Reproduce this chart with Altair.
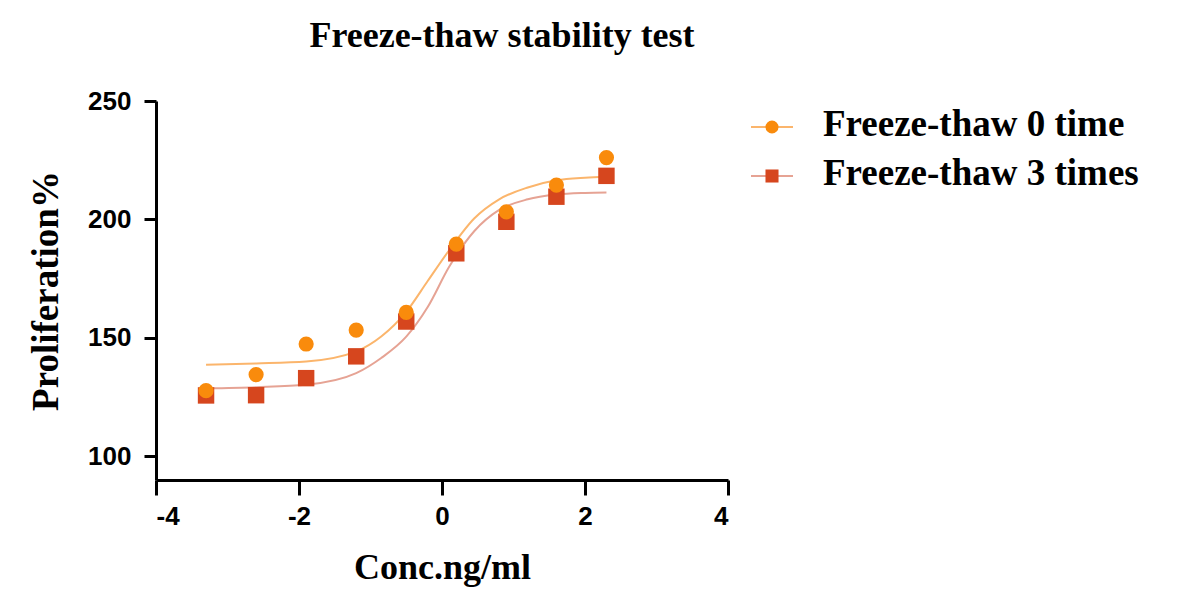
import altair as alt
import pandas as pd

# ---- data ----
x_conc = [-3.3, -2.6, -1.9, -1.2, -0.5, 0.2, 0.9, 1.6, 2.3]
y_ft0 = [127.7, 134.5, 147.4, 153.3, 160.8, 189.6, 203.2, 214.5, 226.1]
y_ft3 = [125.7, 125.8, 133.0, 142.2, 156.9, 185.7, 199.0, 209.6, 218.4]

# fitted curves, points
curve_x = [-3.3, -2.6, -1.9, -1.2, -0.85, -0.5, -0.2, 0.1, 0.45, 0.8, 1.2, 1.6, 2.0, 2.3]
curve_ft0 = [138.7, 139.2, 140.0, 144.3, 150.6, 161.0, 174.0, 187.0, 200.4, 208.5, 213.5, 216.5, 217.6, 218.0]
curve_ft3 = [128.7, 129.2, 130.2, 135.1, 141.5, 150.5, 163.0, 180.0, 195.0, 204.0, 208.5, 210.5, 211.2, 211.4]

series = ["Freeze-thaw 0 time", "Freeze-thaw 3 times"]
marker_colors = ["#F98B0C", "#D6461E"]
line_colors = ["#FBB56C", "#E6A394"]
shapes = ["circle", "square"]

x_ticks = [-4, -2, 0, 2, 4]
y_ticks = [100, 150, 200, 250]

SERIF = "Liberation Serif"
SANS = "Liberation Sans"

pts = pd.DataFrame({
    "x": x_conc + x_conc,
    "y": y_ft0 + y_ft3,
    "series": [series[0]] * len(x_conc) + [series[1]] * len(x_conc),
})
crv = pd.DataFrame({
    "x": curve_x + curve_x,
    "y": curve_ft0 + curve_ft3,
    "series": [series[0]] * len(curve_x) + [series[1]] * len(curve_x),
})

X = alt.X("x:Q", scale=alt.Scale(domain=[-4, 4], nice=False),
          axis=alt.Axis(values=x_ticks, title="Conc.ng/ml", grid=False,
                        labelExpr="datum.value + ''",
                        domainColor="black", domainWidth=3, tickColor="black",
                        tickWidth=3, tickSize=15, labelPadding=8,
                        labelFont=SANS, labelFontWeight="bold", labelFontSize=26,
                        labelColor="black", titleFont=SERIF, titleFontSize=36,
                        titleFontWeight="bold", titleColor="black", titlePadding=21))
Y = alt.Y("y:Q", scale=alt.Scale(domain=[90, 250], nice=False, zero=False),
          axis=alt.Axis(values=y_ticks, title="Proliferation%", grid=False,
                        domainColor="black", domainWidth=3, tickColor="black",
                        tickWidth=3, tickSize=12, labelPadding=13,
                        labelFont=SANS, labelFontWeight="bold", labelFontSize=26,
                        labelColor="black", titleFont=SERIF, titleFontSize=37,
                        titleFontWeight="bold", titleColor="black", titlePadding=22))

lines = alt.Chart(crv).mark_line(strokeWidth=2, interpolate="monotone").encode(
    x=X, y=Y,
    stroke=alt.Stroke("series:N", scale=alt.Scale(domain=series, range=line_colors), legend=None),
)
squares = alt.Chart(pts).transform_filter(alt.datum.series == series[1]).mark_square(
    size=270, opacity=1, color=marker_colors[1]).encode(x=X, y=Y)
circles = alt.Chart(pts).transform_filter(alt.datum.series == series[0]).mark_circle(
    size=230, opacity=1, color=marker_colors[0]).encode(x=X, y=Y)

main = alt.layer(lines, squares, circles)

# ---- legend, drawn to the right of the plot area ----
leg = pd.DataFrame({"series": series, "marker": marker_colors, "line": line_colors})
YL = alt.Y("series:N", scale=alt.Scale(type="point", domain=series, range=[26, 75], padding=0),
           axis=None)
leg_rule = alt.Chart(leg).mark_rule(strokeWidth=2).encode(
    y=YL, x=alt.value(595), x2=alt.value(637), color=alt.Color("line:N", scale=None))
leg_pt = alt.Chart(leg).mark_point(filled=True, opacity=1, size=170).encode(
    y=YL, x=alt.value(616),
    shape=alt.Shape("series:N", scale=alt.Scale(domain=series, range=shapes), legend=None),
    fill=alt.Fill("marker:N", scale=None))
leg_txt = alt.Chart(leg).mark_text(align="left", baseline="middle", font=SERIF, dy=-2,
                                   fontSize=37, fontWeight="bold", color="black").encode(
    y=YL, x=alt.value(667), text="series:N")
legend = alt.layer(leg_rule, leg_pt, leg_txt)

chart = alt.layer(main, legend).resolve_scale(y="independent").properties(
    width=572, height=379,
    title=alt.TitleParams("Freeze-thaw stability test", font=SERIF, fontSize=36,
                          fontWeight="bold", color="black", anchor="middle",
                          frame="group", dx=60, offset=33),
    padding={"left": 19, "top": 10, "right": 5, "bottom": 5},
).configure_view(stroke=None)

chart.save("out.html", embed_options={"renderer": "svg", "actions": False})
